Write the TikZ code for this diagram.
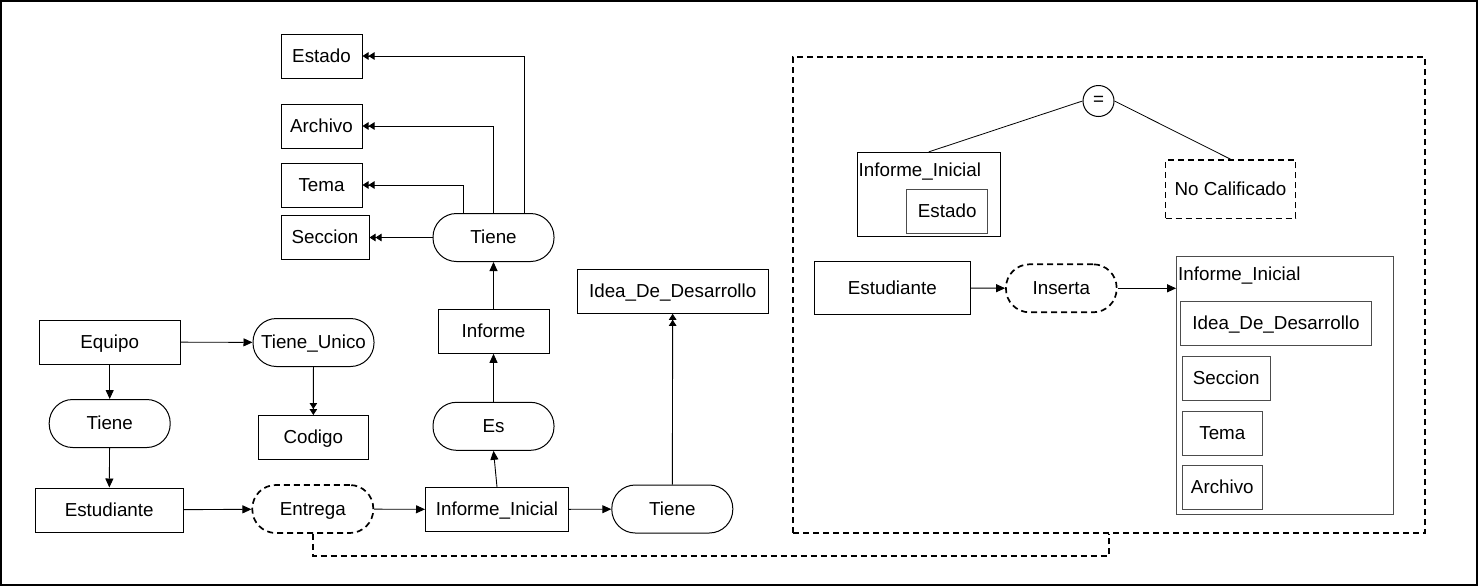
\documentclass[tikz,border=0pt]{standalone}
\usepackage{fontspec}
\setmainfont{Liberation Sans}
\usetikzlibrary{arrows.meta, calc}

\begin{document}
\begin{tikzpicture}[x=1pt, y=-1pt,
    every node/.style={font=\fontsize{18.8}{22}\selectfont, inner sep=0pt, text height=13.5pt, text depth=1pt},
    caja/.style={draw, line width=1pt, minimum width=#1, minimum height=44pt},
    caja/.default=81pt,
    relacion/.style={draw, line width=1pt, rounded corners=23.5pt, minimum width=121pt, minimum height=48pt},
    punteada/.style={line width=1.7pt, dash pattern=on 6pt off 4pt},
    debil/.style={relacion, punteada},
    gris/.style={draw=black!70},
    flecha/.style={line width=0.9pt, -{Triangle[length=9pt,width=8pt]}},
    doble/.style={line width=0.9pt, -{Triangle[length=6pt,width=7.5pt]Triangle[length=6pt,width=7.5pt]}}]
    \useasboundingbox (0,0) rectangle (1479,587);
    \draw[line width=1.3pt] (1,1) rectangle (1477,585);

    % atributos del informe
    \node[caja] (estado) at (321.5,56) {Estado};
    \node[caja] (archivo) at (321.5,126) {Archivo};
    \node[caja] (tema) at (321.5,185) {Tema};
    \node[caja=88pt] (seccion) at (325,237.5) {Seccion};
    \node[relacion] (tieneinf) at (493.5,237.5) {Tiene};
    \node[caja=111pt] (informe) at (493.5,331.3) {Informe};
    \node[relacion] (es) at (493.5,426.3) {Es};
    \node[caja=143pt] (inicial) at (497,509.5) {Informe\_Inicial};
    \node[relacion] (tieneidea) at (672.3,509) {Tiene};
    \node[caja=191pt] (idea) at (672.7,291.3) {Idea\_De\_Desarrollo};

    % equipo y estudiante
    \node[caja=141pt] (equipo) at (109.7,342) {Equipo};
    \node[relacion] (tieneunico) at (313.5,342.5) {Tiene\_Unico};
    \node[relacion] (tieneest) at (109.7,423.5) {Tiene};
    \node[caja=110pt] (codigo) at (313.3,437.5) {Codigo};
    \node[caja=148pt] (estudiante) at (109.2,510) {Estudiante};
    \node[debil] (entrega) at (312.8,509) {Entrega};

    \draw[doble] ([xshift=30.5pt]tieneinf.north) |- (estado);
    \draw[doble] (tieneinf.north) |- (archivo);
    \draw[doble] ([xshift=-30pt]tieneinf.north) |- (tema);
    \draw[doble] (tieneinf) -- (seccion);
    \draw[flecha] (informe) -- (tieneinf);
    \draw[flecha] (es) -- (informe);
    \draw[flecha] (inicial.north) -- (es.south);
    \draw[flecha] (inicial) -- (tieneidea);
    \draw[doble] (tieneidea) -- (idea);
    \draw[flecha] (equipo) -- (tieneunico);
    \draw[doble] (tieneunico) -- (codigo);
    \draw[flecha] (equipo) -- (tieneest);
    \draw[flecha] (tieneest) -- (estudiante);
    \draw[flecha] (estudiante) -- (entrega);
    \draw[flecha] (entrega) -- (inicial);

    % restriccion
    \node[draw, punteada, minimum width=632pt, minimum height=476pt] (marco) at (1109,295) {};
    \coordinate (codo) at (1109,556);
    \draw[punteada] (entrega.south) |- (codo) -- (marco.south);

    \node[draw, line width=1pt, circle, minimum size=31pt, text height=10pt, text depth=1pt] (igual) at (1098.5,101) {=};
    \node[draw, line width=1pt, minimum width=142.5pt, minimum height=83.7pt] (cond) at (928.8,194.2) {};
    \node[anchor=west] (condtitulo) at (858.5,170) {Informe\_Inicial};
    \node[caja=80.5pt, gris] (condestado) at (947.2,211) {Estado};
    \node[draw, punteada, minimum width=130pt, minimum height=58.3pt] (nocal) at (1230.5,189.2) {No Calificado};
    \draw[line width=0.8pt] (igual.west) -- (cond.north);
    \draw[line width=0.8pt] (igual.east) -- (nocal.north);

    \node[caja=155.5pt, minimum height=52.3pt] (estudiante2) at (892.3,288) {Estudiante};
    \node[debil, minimum width=110.7pt] (inserta) at (1061.3,288.3) {Inserta};
    \node[draw, gris, line width=1.2pt, minimum width=216.6pt, minimum height=257.6pt] (datos) at (1285,385.5) {};
    \node[anchor=west] (datostitulo) at (1178,274.3) {Informe\_Inicial};
    \node[caja=190.6pt, gris] (ideain) at (1276,323.3) {Idea\_De\_Desarrollo};
    \node[caja=87.7pt, gris] (seccionin) at (1226.2,378.2) {Seccion};
    \node[caja=80pt, gris] (temain) at (1222.3,433.2) {Tema};
    \node[caja=80pt, gris] (archivoin) at (1222.3,487.3) {Archivo};
    \draw[flecha] (estudiante2) -- (inserta);
    \draw[flecha] (inserta) -- (inserta -| datos.west);
\end{tikzpicture}
\end{document}
